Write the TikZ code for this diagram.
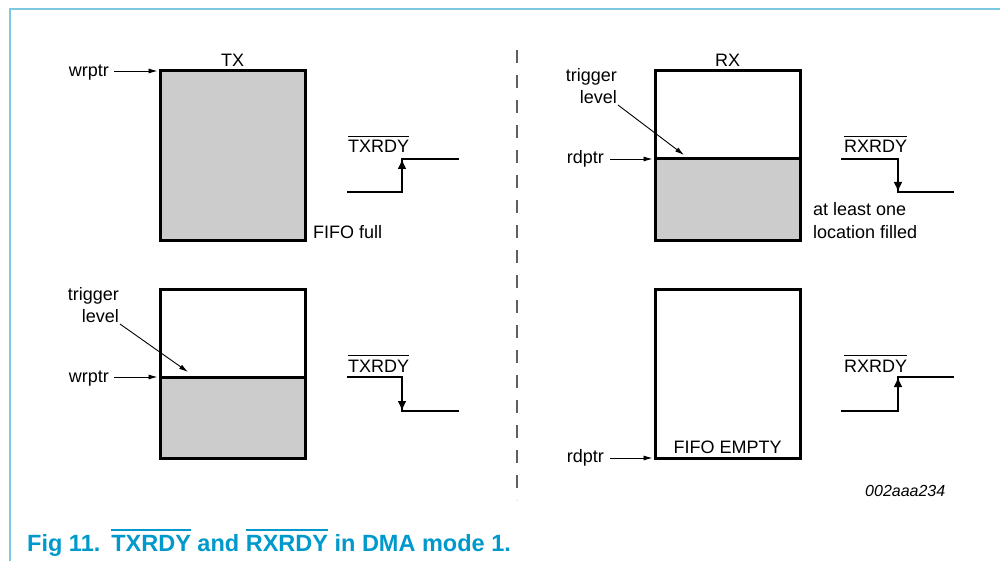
\documentclass[tikz,border=0pt]{standalone}
\usepackage{fontspec}
\setmainfont{Liberation Sans}
\usetikzlibrary{arrows.meta}
\definecolor{fifogray}{RGB}{204,204,204}
\definecolor{framecol}{RGB}{125,200,225}
\definecolor{capcol}{RGB}{0,153,204}
\definecolor{dashcol}{RGB}{95,95,95}
\newcommand\myovl[3][1pt]{\setbox0=\hbox{#3}\rlap{\rule[\dimexpr\ht0+#2\relax]{\wd0}{#1}}\box0\relax}
\begin{document}
\begin{tikzpicture}[x=1pt,y=-1pt,
  lbl/.style={inner sep=0pt, font=\fontsize{18}{22.5}\selectfont},
  twoline/.style={lbl, inner sep=1pt},
  fifo/.style={draw, line width=3pt, minimum width=145pt, minimum height=169pt,
    inner sep=0pt, outer sep=0pt, anchor=north west},
  ptr/.style={line width=0.9pt, -{Latex[length=9pt,width=5pt]}},
  sig/.style={line width=2.8pt, line join=miter},
  sigtip/.style={line width=2.8pt, -{Latex[length=10pt,width=9pt]}},
  divline/.style={line width=3pt},
]
\useasboundingbox (0,0) rectangle (1000,561);

% frame
\coordinate (fbl) at (10,561);
\coordinate (ftl) at (10,9);
\coordinate (ftr) at (1000,9);
\draw[framecol, line width=2pt] (fbl) -- (ftl) -- (ftr);

% dashed divider
\coordinate (dtop) at (517,50);
\coordinate (dbot) at (517,500);
\draw[dashcol, line width=1.4pt, dash pattern=on 13pt off 12pt] (dtop) -- (dbot);

% ---------- TX full ----------
\node[fifo, fill=fifogray] (tx1) at (160,71) {};
\node[lbl, anchor=base] (txlab) at (232.5,67) {TX};
\node[lbl, anchor=base east] (wr1) at (109,77) {wrptr};
\draw[ptr, shorten <=5pt, shorten >=2.5pt] (wr1.east |- tx1.north west) -- (tx1.north west);
\coordinate (a1) at (347,192);
\coordinate (b1) at (402,159);
\coordinate (c1) at (459,159);
\draw[sig] (a1) -| (b1) -- (c1);
\draw[sigtip] (b1 |- a1) -- (b1);
\node[lbl, anchor=base west] (s1) at (348,153) {\myovl{3.6pt}{TXRDY}};
\node[lbl, anchor=base west] (ff) at (313,238) {FIFO full};

% ---------- TX trigger ----------
\coordinate (lv2) at (160,377);
\fill[fifogray] (lv2) rectangle (305,458);
\node[fifo] (tx2) at (160,289) {};
\draw[divline] (tx2.west |- lv2) -- (tx2.east |- lv2);
\node[twoline, align=right, anchor=south east] (trig2) at (120,324) {trigger\\level};
\coordinate (t2end) at (188,372);
\draw[ptr] (trig2.south east) -- (t2end);
\node[lbl, anchor=base east] (wr2) at (109,382) {wrptr};
\draw[ptr, shorten <=5pt, shorten >=2.5pt] (wr2.east |- lv2) -- (lv2);
\coordinate (a2) at (347,377);
\coordinate (b2) at (402,411);
\coordinate (c2) at (459,411);
\draw[sig] (a2) -| (b2) -- (c2);
\draw[sigtip] (b2 |- a2) -- (b2);
\node[lbl, anchor=base west] (s2) at (348,372) {\myovl{3.6pt}{TXRDY}};

% ---------- RX trigger ----------
\coordinate (lv3) at (655,159);
\fill[fifogray] (lv3) rectangle (800,240);
\node[fifo] (rx1) at (655,71) {};
\draw[divline] (rx1.west |- lv3) -- (rx1.east |- lv3);
\node[lbl, anchor=base] (rxlab) at (727.5,67) {RX};
\node[twoline, align=right, anchor=south east] (trig3) at (618,105) {trigger\\level};
\coordinate (t3end) at (684,155);
\draw[ptr] (trig3.south east) -- (t3end);
\node[lbl, anchor=base east] (rd1) at (604,164) {rdptr};
\draw[ptr, shorten <=6pt, shorten >=2.5pt] (rd1.east |- lv3) -- (lv3);
\coordinate (a3) at (841,159);
\coordinate (b3) at (898,192);
\coordinate (c3) at (954,192);
\draw[sig] (a3) -| (b3) -- (c3);
\draw[sigtip] (b3 |- a3) -- (b3);
\node[lbl, anchor=base west] (s3) at (844,153) {\myovl{3.6pt}{RXRDY}};
\node[lbl, align=left, anchor=base west] (alo) at (813,238) {at least one\\location filled};

% ---------- RX empty ----------
\node[fifo] (rx2) at (655,289) {};
\node[lbl, anchor=base] (fe) at (727.5,453) {FIFO EMPTY};
\node[lbl, anchor=base east] (rd2) at (604,462) {rdptr};
\draw[ptr, shorten <=6pt, shorten >=2.5pt] (rd2.east |- rx2.south west) -- (rx2.south west);
\coordinate (a4) at (841,411);
\coordinate (b4) at (898,377);
\coordinate (c4) at (954,377);
\draw[sig] (a4) -| (b4) -- (c4);
\draw[sigtip] (b4 |- a4) -- (b4);
\node[lbl, anchor=base west] (s4) at (844,372) {\myovl{3.6pt}{RXRDY}};

\node[inner sep=0pt, anchor=base west, font=\fontsize{16}{19}\selectfont\itshape] (code) at (865,496) {002aaa234};

% caption
\node[inner sep=0pt, anchor=base west, text=capcol, font=\fontsize{23.5}{27}\selectfont\bfseries] (cap) at (27,551)
  {Fig 11.\hspace{11pt}\myovl[1.5pt]{4pt}{TXRDY} and \myovl[1.5pt]{4pt}{RXRDY} in DMA mode 1.};
\end{tikzpicture}
\end{document}
